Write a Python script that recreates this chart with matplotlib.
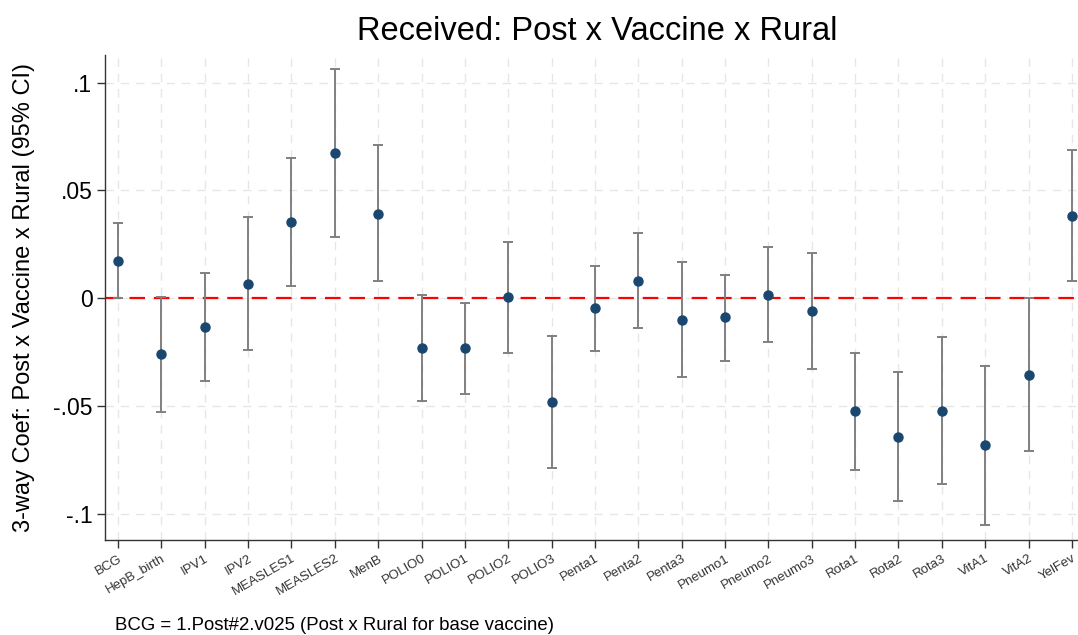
import matplotlib
matplotlib.use("Agg")
import matplotlib.pyplot as plt
import numpy as np

vaccines = ["BCG", "HepB_birth", "IPV1", "IPV2", "MEASLES1", "MEASLES2", "MenB",
            "POLIO0", "POLIO1", "POLIO2", "POLIO3", "Penta1", "Penta2", "Penta3",
            "Pneumo1", "Pneumo2", "Pneumo3", "Rota1", "Rota2", "Rota3", "VitA1",
            "VitA2", "YelFev"]
coef = [0.0172, -0.0260, -0.0136, 0.0065, 0.0353, 0.0671, 0.0390,
        -0.0234, -0.0234, 0.0003, -0.0484, -0.0046, 0.0080, -0.0102,
        -0.0090, 0.0015, -0.0060, -0.0524, -0.0645, -0.0524, -0.0684,
        -0.0357, 0.0382]
ci_low = [0.0000, -0.0530, -0.0385, -0.0241, 0.0056, 0.0282, 0.0079,
          -0.0480, -0.0444, -0.0254, -0.0790, -0.0247, -0.0139, -0.0365,
          -0.0290, -0.0204, -0.0328, -0.0800, -0.0943, -0.0863, -0.1053,
          -0.0712, 0.0080]
ci_high = [0.0347, 0.0006, 0.0115, 0.0374, 0.0651, 0.1063, 0.0709,
           0.0012, -0.0025, 0.0260, -0.0175, 0.0150, 0.0303, 0.0166,
           0.0107, 0.0237, 0.0210, -0.0254, -0.0342, -0.0182, -0.0314,
           0.0002, 0.0688]
yticks = [-0.1, -0.05, 0, 0.05, 0.1]
ytick_labels = ["-.1", "-.05", "0", ".05", ".1"]

plt.rcParams['font.family'] = ['Liberation Sans', 'DejaVu Sans']

fig = plt.figure(figsize=(10.78, 6.35), dpi=100)
ax = fig.add_axes([0.0974, 0.1496, 0.909, 0.7638])

x = np.arange(len(vaccines))
coef_a = np.array(coef)
lo = coef_a - np.array(ci_low)
hi = np.array(ci_high) - coef_a

ax.set_xlim(-0.3, 22.3)
ax.set_ylim(-0.1123, 0.1128)

ax.grid(True, color='#e6e6e6', linestyle=(0, (6, 5)), linewidth=1.0)
ax.set_axisbelow(True)

ax.axhline(0, color='#ff0000', linestyle=(0, (7, 4)), linewidth=1.6, zorder=2)

ax.errorbar(x, coef_a, yerr=[lo, hi], fmt='o', color='#1a476f', markersize=6.5,
            ecolor='#808080', elinewidth=1.4, capsize=3.8, capthick=1.4, zorder=3)

ax.set_xticks(x)
ax.set_xticklabels(vaccines, rotation=30, ha='right', rotation_mode='anchor',
                   fontsize=9.5, color='#333333')
ax.set_yticks(yticks)
ax.set_yticklabels(ytick_labels, fontsize=16.5)
ax.tick_params(axis='y', length=6, width=1, color='#333333', pad=3)
ax.tick_params(axis='x', length=6, width=1, color='#333333', pad=3)

for s in ['top', 'right']:
    ax.spines[s].set_visible(False)
for s in ['left', 'bottom']:
    ax.spines[s].set_color('#333333')
    ax.spines[s].set_linewidth(1.0)

fig.text(24 / 1078, 1 - 298 / 635, "3-way Coef: Post x Vaccine x Rural (95% CI)",
         fontsize=17, rotation=90, ha='center', va='center')
fig.text(597.5 / 1078, 1 - 40 / 635, "Received: Post x Vaccine x Rural", fontsize=23.5,
         ha='center', va='baseline')
fig.text(115 / 1078, 1 - 630 / 635, "BCG = 1.Post#2.v025 (Post x Rural for base vaccine)",
         fontsize=13.4, ha='left', va='baseline')

fig.savefig("out.png", dpi=100)
